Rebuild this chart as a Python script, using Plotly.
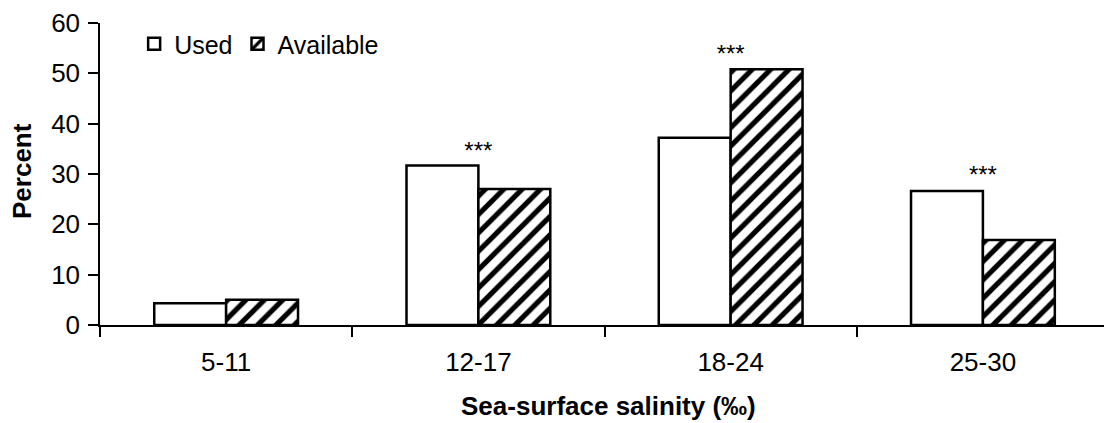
import plotly.graph_objects as go

categories = ["5-11", "12-17", "18-24", "25-30"]
used = [4.3, 31.7, 37.2, 26.6]
available = [5.0, 27.0, 50.8, 16.9]
sig_labels = ["", "***", "***", "***"]
sig_y = [9.0, 34.2, 53.4, 29.4]

FONT = "Liberation Sans, Arial, sans-serif"

fig = go.Figure()
fig.add_trace(go.Bar(
    x=categories, y=used, name="Used",
    marker=dict(color="white", line=dict(color="black", width=2.5)),
))
fig.add_trace(go.Bar(
    x=categories, y=available, name="Available",
    marker=dict(color="white", line=dict(color="black", width=2.5),
                pattern=dict(shape="/", fgcolor="black", bgcolor="white",
                             size=13, solidity=0.4, fillmode="replace")),
))
fig.add_trace(go.Scatter(
    x=categories, y=sig_y, text=sig_labels, mode="text",
    textfont=dict(family=FONT, size=24, color="black"),
    showlegend=False, hoverinfo="skip",
))

fig.update_layout(
    width=1104, height=423,
    margin=dict(l=100, r=0, t=23, b=98, autoexpand=False),
    paper_bgcolor="white", plot_bgcolor="white",
    barmode="group", bargap=0.43, bargroupgap=0.0,
    font=dict(family=FONT, size=26, color="black"),
    showlegend=True,
    legend=dict(orientation="h", x=0.034, y=(325 - 44) / 302, xanchor="left", yanchor="middle",
                font=dict(family=FONT, size=25, color="black"),
                bgcolor="rgba(0,0,0,0)", itemwidth=30, tracegroupgap=0),
    annotations=[
        dict(text="<b>Percent</b>", xref="paper", yref="paper", x=-(100 - 22) / 1004, y=(325 - 171) / 302,
             xanchor="center", yanchor="middle", textangle=-90, showarrow=False,
             font=dict(family=FONT, size=26, color="black")),
        dict(text="<b>Sea-surface salinity (‰)</b>", xref="paper", yref="paper", x=(608 - 100) / 1004,
             y=-(406 - 325) / 302, xanchor="center", yanchor="middle", showarrow=False,
             font=dict(family=FONT, size=26, color="black")),
    ],
)
fig.update_xaxes(
    range=[-0.5, 3.48], showline=True, linecolor="black", linewidth=1.5,
    ticks="outside", ticklen=10, tickcolor="black", tickwidth=1.5,
    tickson="boundaries", showgrid=False, zeroline=False, automargin=False,
    tickfont=dict(family=FONT, size=26), ticklabelstandoff=13,
)
fig.update_yaxes(
    range=[0, 60], tickvals=[0, 10, 20, 30, 40, 50, 60],
    showline=True, linecolor="black", linewidth=1.5,
    ticks="outside", ticklen=10, tickcolor="black", tickwidth=1.5,
    showgrid=False, zeroline=False, automargin=False,
    tickfont=dict(family=FONT, size=26), ticklabelstandoff=3,
)

fig.write_html("out.html", config={"displayModeBar": False},
               post_script="document.body.style.margin='0';document.body.style.overflow='hidden';")
